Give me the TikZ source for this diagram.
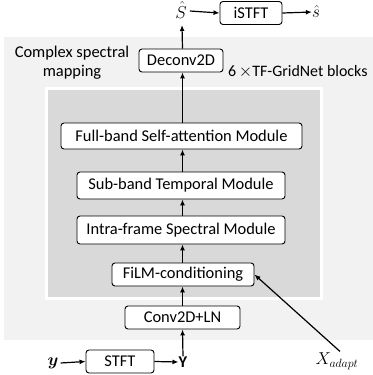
\documentclass[tikz,border=0pt]{standalone}
\usepackage{amsmath}
\usepackage{bm}
\usepackage{fontspec}
\setmainfont{Carlito}
\usetikzlibrary{arrows.meta}
\definecolor{outergray}{HTML}{F2F2F2}
\definecolor{innergray}{HTML}{D9D9D9}
\tikzset{
  blk/.style={draw=black, line width=0.9bp, rounded corners=3bp, fill=white,
    inner sep=0pt, align=center},
  arr/.style={-{Latex[length=6bp,width=5bp]}, line width=1.2bp},
  lbl/.style={inner sep=0pt},
  mlbl/.style={inner sep=0pt, font=\fontsize{18}{20}\selectfont}
}
\begin{document}
\begin{tikzpicture}[x=1bp, y=-1bp, font=\fontsize{16.5}{19}\selectfont]
\useasboundingbox (0,0) rectangle (373,375);
% background panels
\fill[outergray] (4,37) rectangle (373,340);
\fill[white] (45,87) rectangle (323,300);
\fill[innergray] (48,90) rectangle (320,297);
% text labels
\node[lbl, align=center] (csm) at (72,63) {Complex spectral\\mapping};
\node[lbl, anchor=west, font=\fontsize{16}{19}\selectfont] (nblk) at (228,72) {6\,$\times$TF-GridNet blocks};
% blocks
\node[blk, minimum width=84bp, minimum height=23bp] (deconv) at (181,60.5) {Deconv2D};
\node[blk, minimum width=62bp, minimum height=23bp] (istft) at (251,13) {iSTFT};
\node[blk, minimum width=241bp, minimum height=26bp] (full) at (181.5,136) {Full-band Self-attention Module};
\node[blk, minimum width=208bp, minimum height=27bp] (sub) at (181,185.5) {Sub-band Temporal Module};
\node[blk, minimum width=208bp, minimum height=28bp] (intra) at (181,230) {Intra-frame Spectral Module};
\node[blk, minimum width=142bp, minimum height=23bp] (film) at (183,274.5) {FiLM-conditioning};
\node[blk, minimum width=115bp, minimum height=23bp] (conv) at (182.5,317.5) {Conv2D+LN};
\node[blk, minimum width=68bp, minimum height=23bp] (stft) at (120,361.5) {STFT};
% signals
\node[mlbl] (Shat) at (181,10) {$\hat{S}$};
\node[mlbl] (shat) at (316,12) {$\hat{s}$};
\node[mlbl] (yin) at (53,363) {$\bm{y}$};
\node[lbl] (Yspec) at (183,362) {\textbf{Y}};
\node[mlbl] (xad) at (337,361) {$X_{adapt}$};
\coordinate (Sin) at (182,25);
% connectors
\draw[arr] (yin.east) ++(2,0) -- (stft.west);
\draw[arr] (stft.east) -- (Yspec.west);
\draw[arr] (Yspec.north) -- (conv.south);
\draw[arr] (conv.north) -- (conv.north |- film.south);
\draw[arr] (film.north -| conv.north) -- (intra.south -| conv.north);
\draw[arr] (intra.north -| conv.north) -- (sub.south -| conv.north);
\draw[arr] (sub.north -| conv.north) -- (full.south -| conv.north);
\draw[arr] (full.north -| conv.north) -- (deconv.south -| conv.north);
\draw[arr] (deconv.north -| conv.north) -- (Sin);
\draw[arr] (Shat.east) ++(3,1) -- (istft.west);
\draw[arr] (istft.east) -- (shat.west);
\draw[arr] (xad.north) ++(3,-1) -- (film.east);
\end{tikzpicture}
\end{document}
